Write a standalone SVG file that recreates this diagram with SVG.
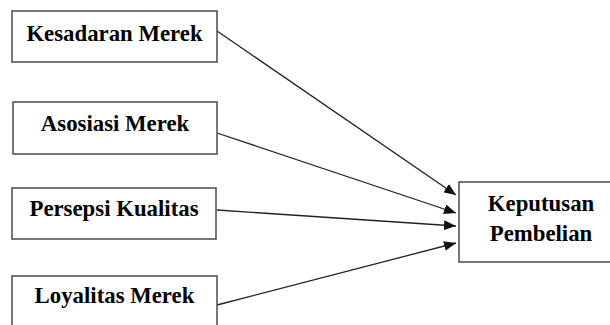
<svg xmlns="http://www.w3.org/2000/svg" width="610" height="325" viewBox="0 0 610 325">
<defs>
<style>
.box{fill:#fff;stroke:#555;stroke-width:1.6}
.t{font-family:"Liberation Serif","Times New Roman",serif;font-weight:bold;font-size:22.8px;fill:#000;text-anchor:middle}
.c{stroke:#222;stroke-width:1.3;fill:none;marker-end:url(#ah)}
</style>
<marker id="ah" viewBox="0 0 12 10" refX="12" refY="5" markerWidth="12" markerHeight="10" markerUnits="userSpaceOnUse" orient="auto">
<path d="M0,0 L12,5 L0,10 Z" fill="#111"/>
</marker>
</defs>
<rect width="610" height="325" fill="#fff"/>
<g id="connectors">
<line class="c" x1="217" y1="31" x2="456" y2="195"/>
<line class="c" x1="217" y1="133" x2="456" y2="213"/>
<line class="c" x1="217" y1="210" x2="456" y2="226"/>
<line class="c" x1="217" y1="305" x2="456" y2="243"/>
</g>
<g id="kesadaran">
<rect class="box" x="12" y="11" width="205" height="51"/>
<text class="t" x="114.5" y="41">Kesadaran Merek</text>
</g>
<g id="asosiasi">
<rect class="box" x="13" y="102" width="204" height="52"/>
<text class="t" x="115" y="131">Asosiasi Merek</text>
</g>
<g id="persepsi">
<rect class="box" x="12" y="188" width="204" height="51"/>
<text class="t" x="114" y="216">Persepsi Kualitas</text>
</g>
<g id="loyalitas">
<rect class="box" x="12" y="276" width="205" height="60"/>
<text class="t" x="114.5" y="303">Loyalitas Merek</text>
</g>
<g id="keputusan">
<rect class="box" x="459" y="182" width="164" height="80"/>
<text class="t" x="541" y="211">Keputusan</text>
<text class="t" x="541" y="241">Pembelian</text>
</g>
</svg>
